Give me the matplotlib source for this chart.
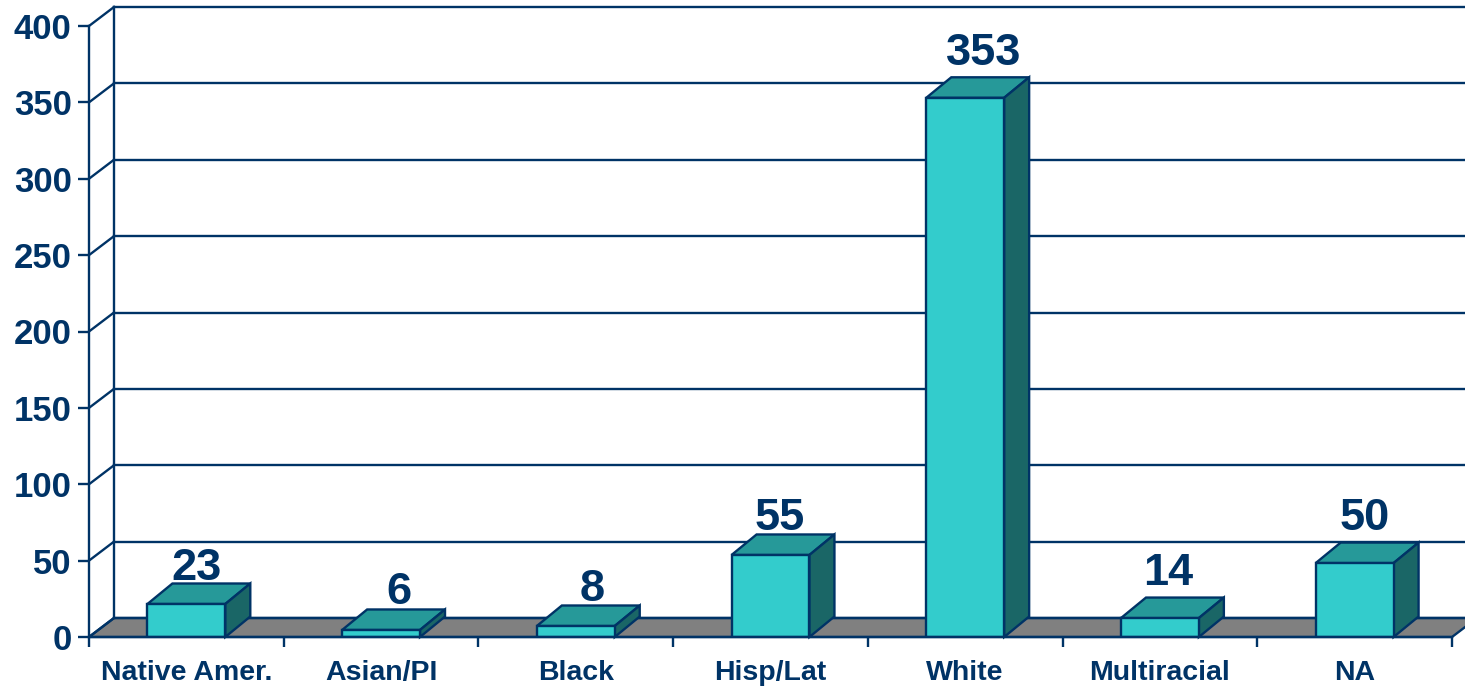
import matplotlib
matplotlib.use("Agg")
import matplotlib.pyplot as plt
from matplotlib.patches import Polygon

plt.rcParams['font.family'] = ['Liberation Sans', 'DejaVu Sans']

categories = ["Native Amer.", "Asian/PI", "Black", "Hisp/Lat", "White", "Multiracial", "NA"]
labels = [23, 6, 8, 55, 353, 14, 50]
# the bars are drawn a bit shorter than their printed numbers
bar_heights = [21.6, 4.6, 7.2, 53.7, 353, 12.4, 48.4]
y_ticks = [0, 50, 100, 150, 200, 250, 300, 350, 400]

# hand nudges for the number labels, pixels
nudge_x = [-2, 5, 4, -3, 6, -4, -2]
nudge_y = [-5, -3, -4, -4, 4, 4, 4]

navy = "#003366"
front_col = "#33CCCC"
top_col = "#269999"
side_col = "#1A6666"
floor_col = "#808080"

W, H = 1465, 686
fig = plt.figure(figsize=(W / 100, H / 100), dpi=100, facecolor="white")
ax = fig.add_axes([89 / W, (H - 637) / H, (1452 - 89) / W, (637 - 26) / H])
ax.set_xlim(0, len(categories))
ax.set_ylim(0, 400)
ax.patch.set_visible(False)

# depth of the fake 3d, pixels turned into data units
px_x = len(categories) / (1452 - 89)
px_y = 400 / (637 - 26)
dx = 25 * px_x
dy = 19 * px_y
bar_dy = 20.5 * px_y
lw = 1.7

# floor
ax.add_patch(Polygon([(0, 0), (7, 0), (7 + dx, dy), (dx, dy)], closed=True, fc=floor_col,
                     ec=navy, lw=lw, clip_on=False, zorder=1))

# back wall lines
for t in y_ticks:
    ax.plot([dx, 7 + 2 * dx], [t + dy, t + dy], color=navy, lw=lw, clip_on=False, zorder=1)
    ax.plot([0, dx], [t, t + dy], color=navy, lw=lw, clip_on=False, zorder=1)
ax.plot([dx, dx], [dy, 400 + dy], color=navy, lw=lw, clip_on=False, zorder=1)

# bars
bw = 0.4
for i, h in enumerate(bar_heights):
    x0 = i + 0.5 - bw / 2
    x1 = x0 + bw
    ax.add_patch(Polygon([(x0, h), (x1, h), (x1 + dx, h + bar_dy), (x0 + dx, h + bar_dy)],
                         closed=True, fc=top_col, ec=navy, lw=lw, clip_on=False, zorder=3))
    ax.add_patch(Polygon([(x1, 0), (x1 + dx, bar_dy), (x1 + dx, h + bar_dy), (x1, h)],
                         closed=True, fc=side_col, ec=navy, lw=lw, clip_on=False, zorder=3))
    ax.bar(i + 0.5, h, width=bw, color=front_col, edgecolor=navy, linewidth=lw, zorder=4)
    off = (nudge_x[i] * 0.72, -0.3 + nudge_y[i] * 0.72)
    ax.annotate(str(labels[i]), (i + 0.5 + dx / 2, h + bar_dy), xytext=off, textcoords="offset points",
                ha="center", va="bottom", fontsize=32.5, fontweight="bold", color=navy, zorder=5,
                annotation_clip=False)

for s in ["top", "right"]:
    ax.spines[s].set_visible(False)
for s in ["left", "bottom"]:
    ax.spines[s].set_color(navy)
    ax.spines[s].set_linewidth(lw)
    ax.spines[s].set_zorder(6)

ax.set_yticks(y_ticks)
ax.tick_params(axis="y", colors=navy, length=8, width=lw, pad=4.5, labelsize=25)
ax.set_xticks(range(len(categories) + 1))
ax.set_xticklabels([])
ax.tick_params(axis="x", which="major", colors=navy, length=7.5, width=lw)
ax.set_xticks([i + 0.5 for i in range(len(categories))], minor=True)
ax.set_xticklabels(categories, minor=True)
ax.tick_params(axis="x", which="minor", colors=navy, length=0, pad=16.4, labelsize=20.5)
for t in ax.get_yticklabels() + ax.get_xticklabels(minor=True):
    t.set_fontweight("bold")

fig.savefig("out.png", dpi=100)
